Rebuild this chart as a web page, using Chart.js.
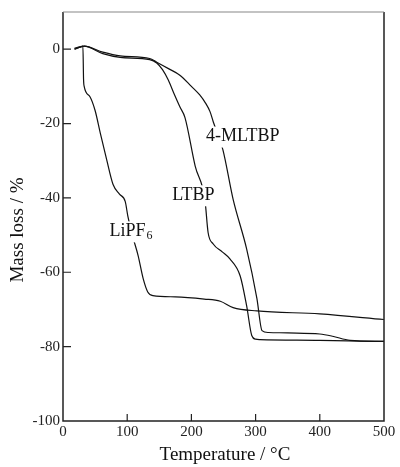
<!DOCTYPE html>
<html>
<head>
<meta charset="utf-8">
<script src="https://cdn.jsdelivr.net/npm/chart.js@4/dist/chart.umd.min.js"></script>
<style>
  body { margin: 0; background: #fff; }
  #wrap { width: 400px; height: 467px; }
</style>
</head>
<body>
<div id="wrap"><canvas id="tga" width="400" height="467"></canvas></div>
<script>
// TGA curves (temperature in °C, mass loss in %)
const lipf6T = [18, 25, 31, 32, 33, 42, 50, 58, 68, 78, 88, 97, 101, 109, 117, 125, 132, 140, 175, 220, 245, 265, 302, 400, 500];
const lipf6M = [0.2, 0.6, 0.8, -8, -10, -12.8, -16.5, -22.5, -29.7, -36.4, -39, -41, -44.9, -50.6, -55.5, -61.8, -65.3, -66.3, -66.6, -67.2, -67.8, -69.5, -70.4, -71.2, -72.7];

const ltbpT = [18, 33, 62, 89, 135, 146, 155, 164, 173, 182, 190, 206, 221, 226, 234, 248, 260, 276, 286, 294, 300, 307, 400, 500];
const ltbpM = [0, 0.8, -1.2, -2.2, -2.8, -3.7, -5.5, -8.3, -12, -15.5, -18.4, -31.5, -40.4, -49.3, -52.4, -54.5, -56.4, -61, -69, -77, -78, -78.1, -78.3, -78.6];

const mltbpT = [18, 33, 62, 89, 135, 146, 165, 182, 200, 213, 222, 229, 234, 249, 265, 286, 302, 310, 320, 350, 400, 420, 447, 500];
const mltbpM = [0, 0.8, -0.8, -1.8, -2.5, -3.5, -5.3, -7, -10, -12.3, -14.5, -16.8, -19.5, -27, -40.4, -53.7, -67, -75.7, -76.2, -76.3, -76.6, -77.2, -78.3, -78.6];

const xTicks = [0, 100, 200, 300, 400, 500];
const yTicks = [-100, -80, -60, -40, -20, 0];

// curve labels: text, subscript, position in data units
const curveLabels = [
    { text: "4-MLTBP", sub: "", t: 280, m: -23.5 },
    { text: "LTBP", sub: "", t: 203, m: -39.3 },
    { text: "LiPF", sub: "6", t: 106, m: -49 }
];

const serif = '"Liberation Serif", "DejaVu Serif", serif';

function toPoints(ts, ms) {
    return ts.map((t, i) => ({ x: t, y: ms[i] }));
}

function lineSet(ts, ms) {
    return {
        data: toPoints(ts, ms),
        borderColor: "#111",
        borderWidth: 1.2,
        pointRadius: 0,
        fill: false,
        cubicInterpolationMode: "monotone"
    };
}

// frame, inward ticks, curve labels and axis titles
const decor = {
    id: "decor",
    afterDatasetsDraw(chart) {
        const ctx = chart.ctx;
        const a = chart.chartArea;
        const xs = chart.scales.x;
        const ys = chart.scales.y;
        ctx.save();

        // curve labels with white box so the line breaks behind them
        ctx.textBaseline = "middle";
        curveLabels.forEach(l => {
            const px = xs.getPixelForValue(l.t);
            const py = ys.getPixelForValue(l.m);
            ctx.font = "18px " + serif;
            const w1 = ctx.measureText(l.text).width;
            ctx.font = "12px " + serif;
            const w2 = l.sub ? ctx.measureText(l.sub).width + 1 : 0;
            const w = w1 + w2;
            ctx.fillStyle = "#fff";
            ctx.fillRect(px - w / 2 - 2, py - 10, w + 4, 21);
            ctx.fillStyle = "#111";
            ctx.textAlign = "left";
            ctx.font = "18px " + serif;
            ctx.fillText(l.text, px - w / 2, py);
            if (l.sub) {
                ctx.font = "12px " + serif;
                ctx.fillText(l.sub, px - w / 2 + w1 + 1, py + 4);
            }
        });

        // frame
        ctx.lineWidth = 1.5;
        ctx.strokeStyle = "#222";
        ctx.beginPath();
        ctx.moveTo(a.left, a.top);
        ctx.lineTo(a.left, a.bottom);
        ctx.lineTo(a.right, a.bottom);
        ctx.lineTo(a.right, a.top);
        ctx.stroke();
        ctx.strokeStyle = "#888";
        ctx.lineWidth = 1.2;
        ctx.beginPath();
        ctx.moveTo(a.left, a.top);
        ctx.lineTo(a.right, a.top);
        ctx.stroke();

        // inward ticks
        ctx.strokeStyle = "#222";
        ctx.lineWidth = 1.2;
        ctx.beginPath();
        yTicks.forEach(v => {
            if (v === -100) return;
            const py = ys.getPixelForValue(v);
            ctx.moveTo(a.left, py);
            ctx.lineTo(a.left + 8, py);
        });
        xTicks.forEach(v => {
            if (v === 0 || v === 500) return;
            const px = xs.getPixelForValue(v);
            ctx.moveTo(px, a.bottom);
            ctx.lineTo(px, a.bottom - 7);
        });
        ctx.stroke();

        // axis titles
        ctx.fillStyle = "#111";
        ctx.font = "19px " + serif;
        ctx.textAlign = "center";
        ctx.textBaseline = "middle";
        ctx.fillText("Temperature / °C", 225, 455);
        ctx.translate(18, 230);
        ctx.rotate(-Math.PI / 2);
        ctx.fillText("Mass loss / %", 0, 0);
        ctx.restore();
    }
};

new Chart(document.getElementById("tga"), {
    type: "line",
    data: {
        datasets: [
            lineSet(lipf6T, lipf6M),
            lineSet(ltbpT, ltbpM),
            lineSet(mltbpT, mltbpM)
        ]
    },
    options: {
        responsive: false,
        animation: false,
        layout: { padding: { left: 0, top: 12, right: 16, bottom: 0 } },
        plugins: { legend: { display: false }, tooltip: { enabled: false } },
        scales: {
            x: {
                type: "linear",
                min: 0,
                max: 500,
                afterBuildTicks: s => { s.ticks = xTicks.map(v => ({ value: v })); },
                afterFit: s => { s.height = 46; },
                grid: { display: false, drawTicks: false },
                border: { display: false },
                ticks: { font: { family: serif, size: 15 }, color: "#222", padding: 2, maxRotation: 0 }
            },
            y: {
                type: "linear",
                min: -100,
                max: 10,
                afterBuildTicks: s => { s.ticks = yTicks.map(v => ({ value: v })); },
                afterFit: s => { s.width = 63; },
                grid: { display: false, drawTicks: false },
                border: { display: false },
                ticks: { font: { family: serif, size: 15 }, color: "#222", padding: 3 }
            }
        }
    },
    plugins: [decor]
});
</script>
</body>
</html>
